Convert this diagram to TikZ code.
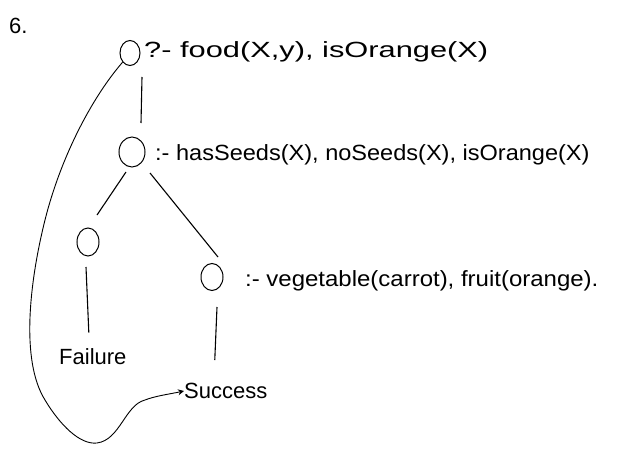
\documentclass[tikz,border=0pt]{standalone}
\usepackage{fontspec}
\setmainfont{Liberation Sans}
\usetikzlibrary{arrows.meta,shapes.geometric}
\begin{document}
\begin{tikzpicture}[x=1pt,y=-1pt,
  goal/.style={draw,ellipse,line width=1pt,inner sep=0pt,minimum width=21pt,minimum height=26pt},
  lbl/.style={anchor=west,font=\fontsize{22}{26}\selectfont,inner sep=0pt},
  edge/.style={line width=1.1pt},
  loopline/.style={line width=0.9pt,-{Stealth[length=6pt,width=6pt]}}]
\useasboundingbox (0,0) rectangle (621,460);
\node[lbl] (num) at (9,26) {6.};
\node[goal,minimum width=20pt,minimum height=25pt] (c1) at (130,53) {};
\node[lbl] (t1) at (144,52) {\scalebox{1.4}[1]{?- food(X,y), isOrange(X)}};
\node[goal,minimum width=26pt,minimum height=30pt] (c2) at (132,152) {};
\node[lbl] (t2) at (155,155) {\scalebox{1.07}[1]{:- hasSeeds(X), noSeeds(X), isOrange(X)}};
\node[goal,minimum width=22pt,minimum height=28pt] (c3) at (88,242) {};
\node[goal,minimum width=22pt,minimum height=27pt] (c4) at (212,277) {};
\node[lbl] (t4) at (245,281) {\scalebox{1.09}[1]{:- vegetable(carrot), fruit(orange).}};
\node[lbl] (fail) at (59,357) {Failure};
\node[lbl] (succ) at (184,391) {Success};
\draw[edge] ([xshift=12pt,yshift=-24pt]c1.center) -- ([xshift=9pt,yshift=29pt]c2.center);
\draw[edge] ([xshift=-6pt,yshift=-20pt]c2.center) -- ([xshift=9pt,yshift=27pt]c3.center);
\draw[edge] ([xshift=18pt,yshift=-21pt]c2.center) -- ([xshift=6pt,yshift=20pt]c4.center);
\draw[edge] ([xshift=-2pt,yshift=-25pt]c3.center) -- ([xshift=-4pt,yshift=16pt]fail.north);
\draw[edge] ([xshift=5pt,yshift=-30pt]c4.center) -- ([xshift=-11pt,yshift=23pt]succ.north);
\draw[loopline] (c1.south west) .. controls (90,100) and (60,160) .. (45,220)
  .. controls (30,280) and (20,360) .. (45,400)
  .. controls (60,425) and (80,445) .. (97,443)
  .. controls (120,440) and (125,405) .. (145,400)
  .. controls (155,396) and (170,394) .. (succ.west);
\end{tikzpicture}
\end{document}
